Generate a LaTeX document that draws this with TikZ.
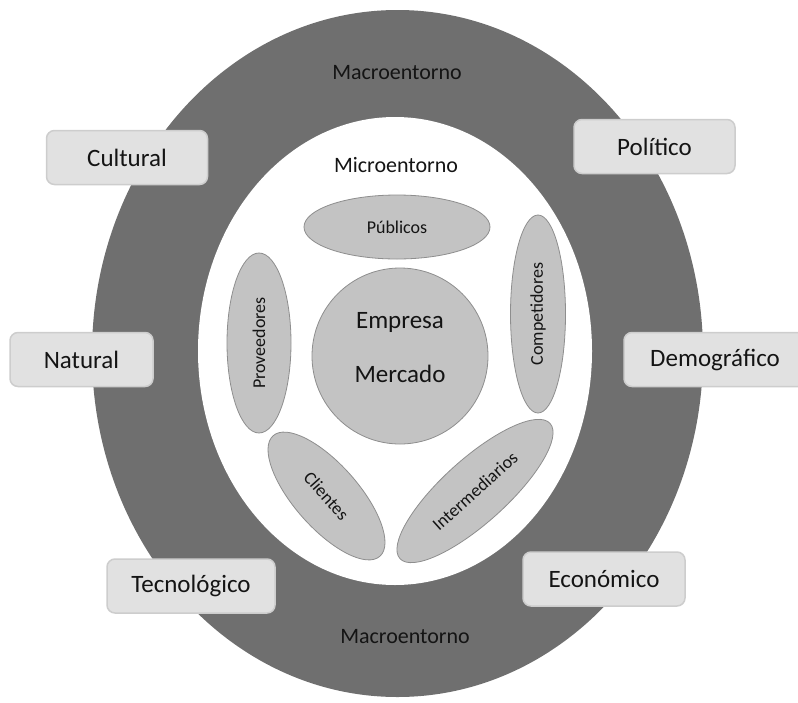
\documentclass[tikz,border=0pt]{standalone}
\usepackage{fontspec}
\setmainfont{Carlito}
\usetikzlibrary{shapes.geometric}

\definecolor{ringgray}{HTML}{6F6F6F}
\definecolor{pillfill}{HTML}{C3C3C3}
\definecolor{pillline}{HTML}{8E8E8E}
\definecolor{tagfill}{HTML}{E1E1E1}
\definecolor{tagline}{HTML}{CDCDCD}
\definecolor{ink}{HTML}{141414}

\tikzset{
  pill/.style={ellipse, fill=pillfill, draw=pillline, line width=0.8pt,
    inner sep=0pt, text=ink, font=\fontsize{18}{20}\selectfont},
  factor/.style={rectangle, rounded corners=8pt, fill=tagfill, draw=tagline,
    line width=1.5pt, inner sep=0pt, minimum height=54pt, text=ink,
    font=\fontsize{25}{28}\selectfont},
  level/.style={text=ink, inner sep=0pt, font=\fontsize{22}{24}\selectfont},
  core/.style={text=ink, inner sep=0pt, anchor=base, font=\fontsize{25}{28}\selectfont},
}

\begin{document}
\begin{tikzpicture}[x=1pt,y=-1pt]
\useasboundingbox (0,0) rectangle (798,702);

% macro environment ring and micro environment area
\node[ellipse, fill=ringgray, inner sep=0pt,
      minimum width=611pt, minimum height=687pt] (macro) at (397.5,353.5) {};
\node[ellipse, fill=white, inner sep=0pt,
      minimum width=394pt, minimum height=468pt] (micro) at (395,351) {};

\node[level] (macrotop) at (397,73) {Macroentorno};
\node[level] (macrobot) at (405,637) {Macroentorno};
\node[level] (microlbl) at (396,165) {Microentorno};

% company and market core
\node[circle, fill=pillfill, draw=pillline, line width=0.8pt, inner sep=0pt,
      minimum size=176pt] (core) at (400,356) {};
\node[core] (empresa) at (400,328) {Empresa};
\node[core] (mercado) at (400,382) {Mercado};

% micro environment actors
\node[pill, minimum width=186pt, minimum height=64pt] (publicos) at (397,227) {Públicos};
\node[pill, rotate=90, minimum width=180pt, minimum height=64pt] (proveedores) at (259,343) {Proveedores};
\node[pill, rotate=90, minimum width=198pt, minimum height=55pt] (competidores) at (538,314) {Competidores};
\node[pill, rotate=-48.5, minimum width=161pt, minimum height=64pt] (clientes) at (326.5,496) {Clientes};
\node[pill, rotate=42, minimum width=202pt, minimum height=64pt] (intermediarios) at (475,491) {Intermediarios};

% macro environment factors
\node[factor, minimum width=161pt] (cultural) at (127,157.5) {Cultural};
\node[factor, minimum width=161pt] (politico) at (654.5,146.5) {Político};
\node[factor, minimum width=143pt] (natural) at (81.5,359.5) {Natural};
\node[factor, minimum width=182pt] (demografico) at (715,359.5) {Demográfico};
\node[factor, minimum width=168pt] (tecnologico) at (191,586) {Tecnológico};
\node[factor, minimum width=162pt] (economico) at (604,579) {Económico};
\end{tikzpicture}
\end{document}
